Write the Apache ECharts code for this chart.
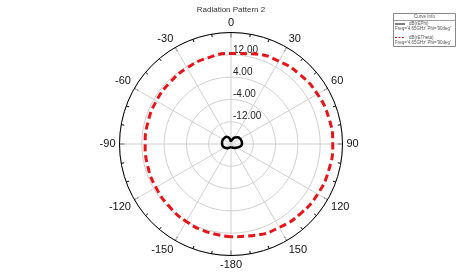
<!DOCTYPE html>
<html>
<head>
<meta charset="utf-8">
<script src="https://cdn.jsdelivr.net/npm/echarts@6/dist/echarts.min.js"></script>
<style>
  html, body { margin: 0; padding: 0; background: #fff; }
  #chart { width: 466px; height: 280px; }
</style>
</head>
<body>
<div id="chart"></div>
<script>
// angles in degrees, 0 at top, clockwise
const thetaDeg = [-180, -165, -150, -135, -120, -105, -90, -75, -60, -45, -30, -15,
                  0, 15, 30, 45, 60, 75, 90, 105, 120, 135, 150, 165, 180];
// dB(rETheta), red dashed
const ethetaDb = [13.3, 12.7, 12.1, 11.5, 11.1, 10.9, 10.8, 10.8, 10.9, 11.1, 11.5, 12.0,
                  12.5, 13.4, 14.3, 15.1, 15.8, 16.3, 16.5, 16.3, 15.9, 15.3, 14.6, 13.9, 13.3];
// dB(rEPhi), black solid
const ephiDb = [-18.85, -18.75, -18.4, -17.9, -17.4, -17.0, -16.8, -16.7, -16.7, -16.8, -17.0, -17.85,
                -18.9, -18.4, -17.3, -16.6, -16.2, -16.05, -16.05, -16.6, -17.5, -18.0, -18.45, -18.7, -18.85];
const radiusTicks = [-20, -12, -4, 4, 12, 20];
const curveNames = ['dB(rEPhi)', 'dB(rETheta)'];
const curveInfo = "Freq='4.65GHz' Phi='90deg'";

const rMin = radiusTicks[0];
function toPolar(vals) {
  // radius axis runs 0..40, so shift dB by -min; negative angles wrap to 180..360
  return vals.map((v, i) => [v - rMin, thetaDeg[i] < 0 ? thetaDeg[i] + 360 : thetaDeg[i]]);
}

const chart = echarts.init(document.getElementById('chart'));
const font = 'Liberation Sans, Arial, sans-serif';

chart.setOption({
  animation: false,
  title: {
    text: 'Radiation Pattern 2', left: 231, top: 6, padding: 0, textAlign: 'center',
    textStyle: { fontSize: 8, fontWeight: 'normal', color: '#333', fontFamily: font }
  },
  polar: { center: [231, 144], radius: 111.5 },
  angleAxis: {
    type: 'value', min: 0, max: 360, interval: 30, startAngle: 90, clockwise: true,
    axisLine: { lineStyle: { color: '#000', width: 1 } },
    axisTick: { inside: true, length: 5, lineStyle: { color: '#000' } },
    minorTick: { show: true, splitNumber: 3, length: 3, lineStyle: { color: '#000' } },
    axisLabel: {
      fontSize: 11, color: '#111', fontFamily: font, margin: 4,
      formatter: v => v === 360 ? '' : (v >= 180 ? String(v - 360) : String(v))
    },
    splitLine: { show: true, lineStyle: { color: '#d0d0d0', width: 1 } }
  },
  radiusAxis: {
    type: 'value', min: 0, max: radiusTicks[radiusTicks.length - 1] - rMin, interval: 8,
    axisLine: { show: false }, axisTick: { show: false },
    axisLabel: {
      fontSize: 10, color: '#222', fontFamily: font, margin: -2,
      align: 'left', verticalAlign: 'bottom',
      formatter: v => (v === 0 || v === 40) ? '' : (v + rMin).toFixed(2)
    },
    splitLine: { show: true, lineStyle: { color: '#d0d0d0', width: 1 } }
  },
  series: [
    {
      name: curveNames[1], type: 'line', coordinateSystem: 'polar', showSymbol: false, smooth: true,
      data: toPolar(ethetaDb), z: 3,
      lineStyle: { color: '#e8141a', width: 3, type: [7, 4] }
    },
    {
      name: curveNames[0], type: 'line', coordinateSystem: 'polar', showSymbol: false, smooth: true,
      data: toPolar(ephiDb), z: 4,
      lineStyle: { color: '#000', width: 2.5 }
    }
  ],
  graphic: [
    { type: 'rect', shape: { x: 393.5, y: 13.5, width: 62, height: 33 },
      style: { fill: '#fff', stroke: '#888', lineWidth: 1 } },
    { type: 'text', x: 424.5, y: 14.5, style: { text: 'Curve Info', fontSize: 4.5, fill: '#555', align: 'center', fontFamily: font } },
    { type: 'line', shape: { x1: 393.5, y1: 20.5, x2: 455.5, y2: 20.5 }, style: { stroke: '#888', lineWidth: 0.8 } },
    { type: 'line', shape: { x1: 395, y1: 24, x2: 405, y2: 24 }, style: { stroke: '#000', lineWidth: 1 } },
    { type: 'text', x: 409, y: 21.5, style: { text: curveNames[0], fontSize: 4.5, fill: '#555', fontFamily: font } },
    { type: 'text', x: 395, y: 26.5, style: { text: curveInfo, fontSize: 4.5, fill: '#555', fontFamily: font } },
    { type: 'line', shape: { x1: 395, y1: 37.5, x2: 405, y2: 37.5 }, style: { stroke: '#e8141a', lineWidth: 1, lineDash: [2, 1.5] } },
    { type: 'text', x: 409, y: 35, style: { text: curveNames[1], fontSize: 4.5, fill: '#555', fontFamily: font } },
    { type: 'text', x: 395, y: 40.5, style: { text: curveInfo, fontSize: 4.5, fill: '#555', fontFamily: font } }
  ]
});
</script>
</body>
</html>
